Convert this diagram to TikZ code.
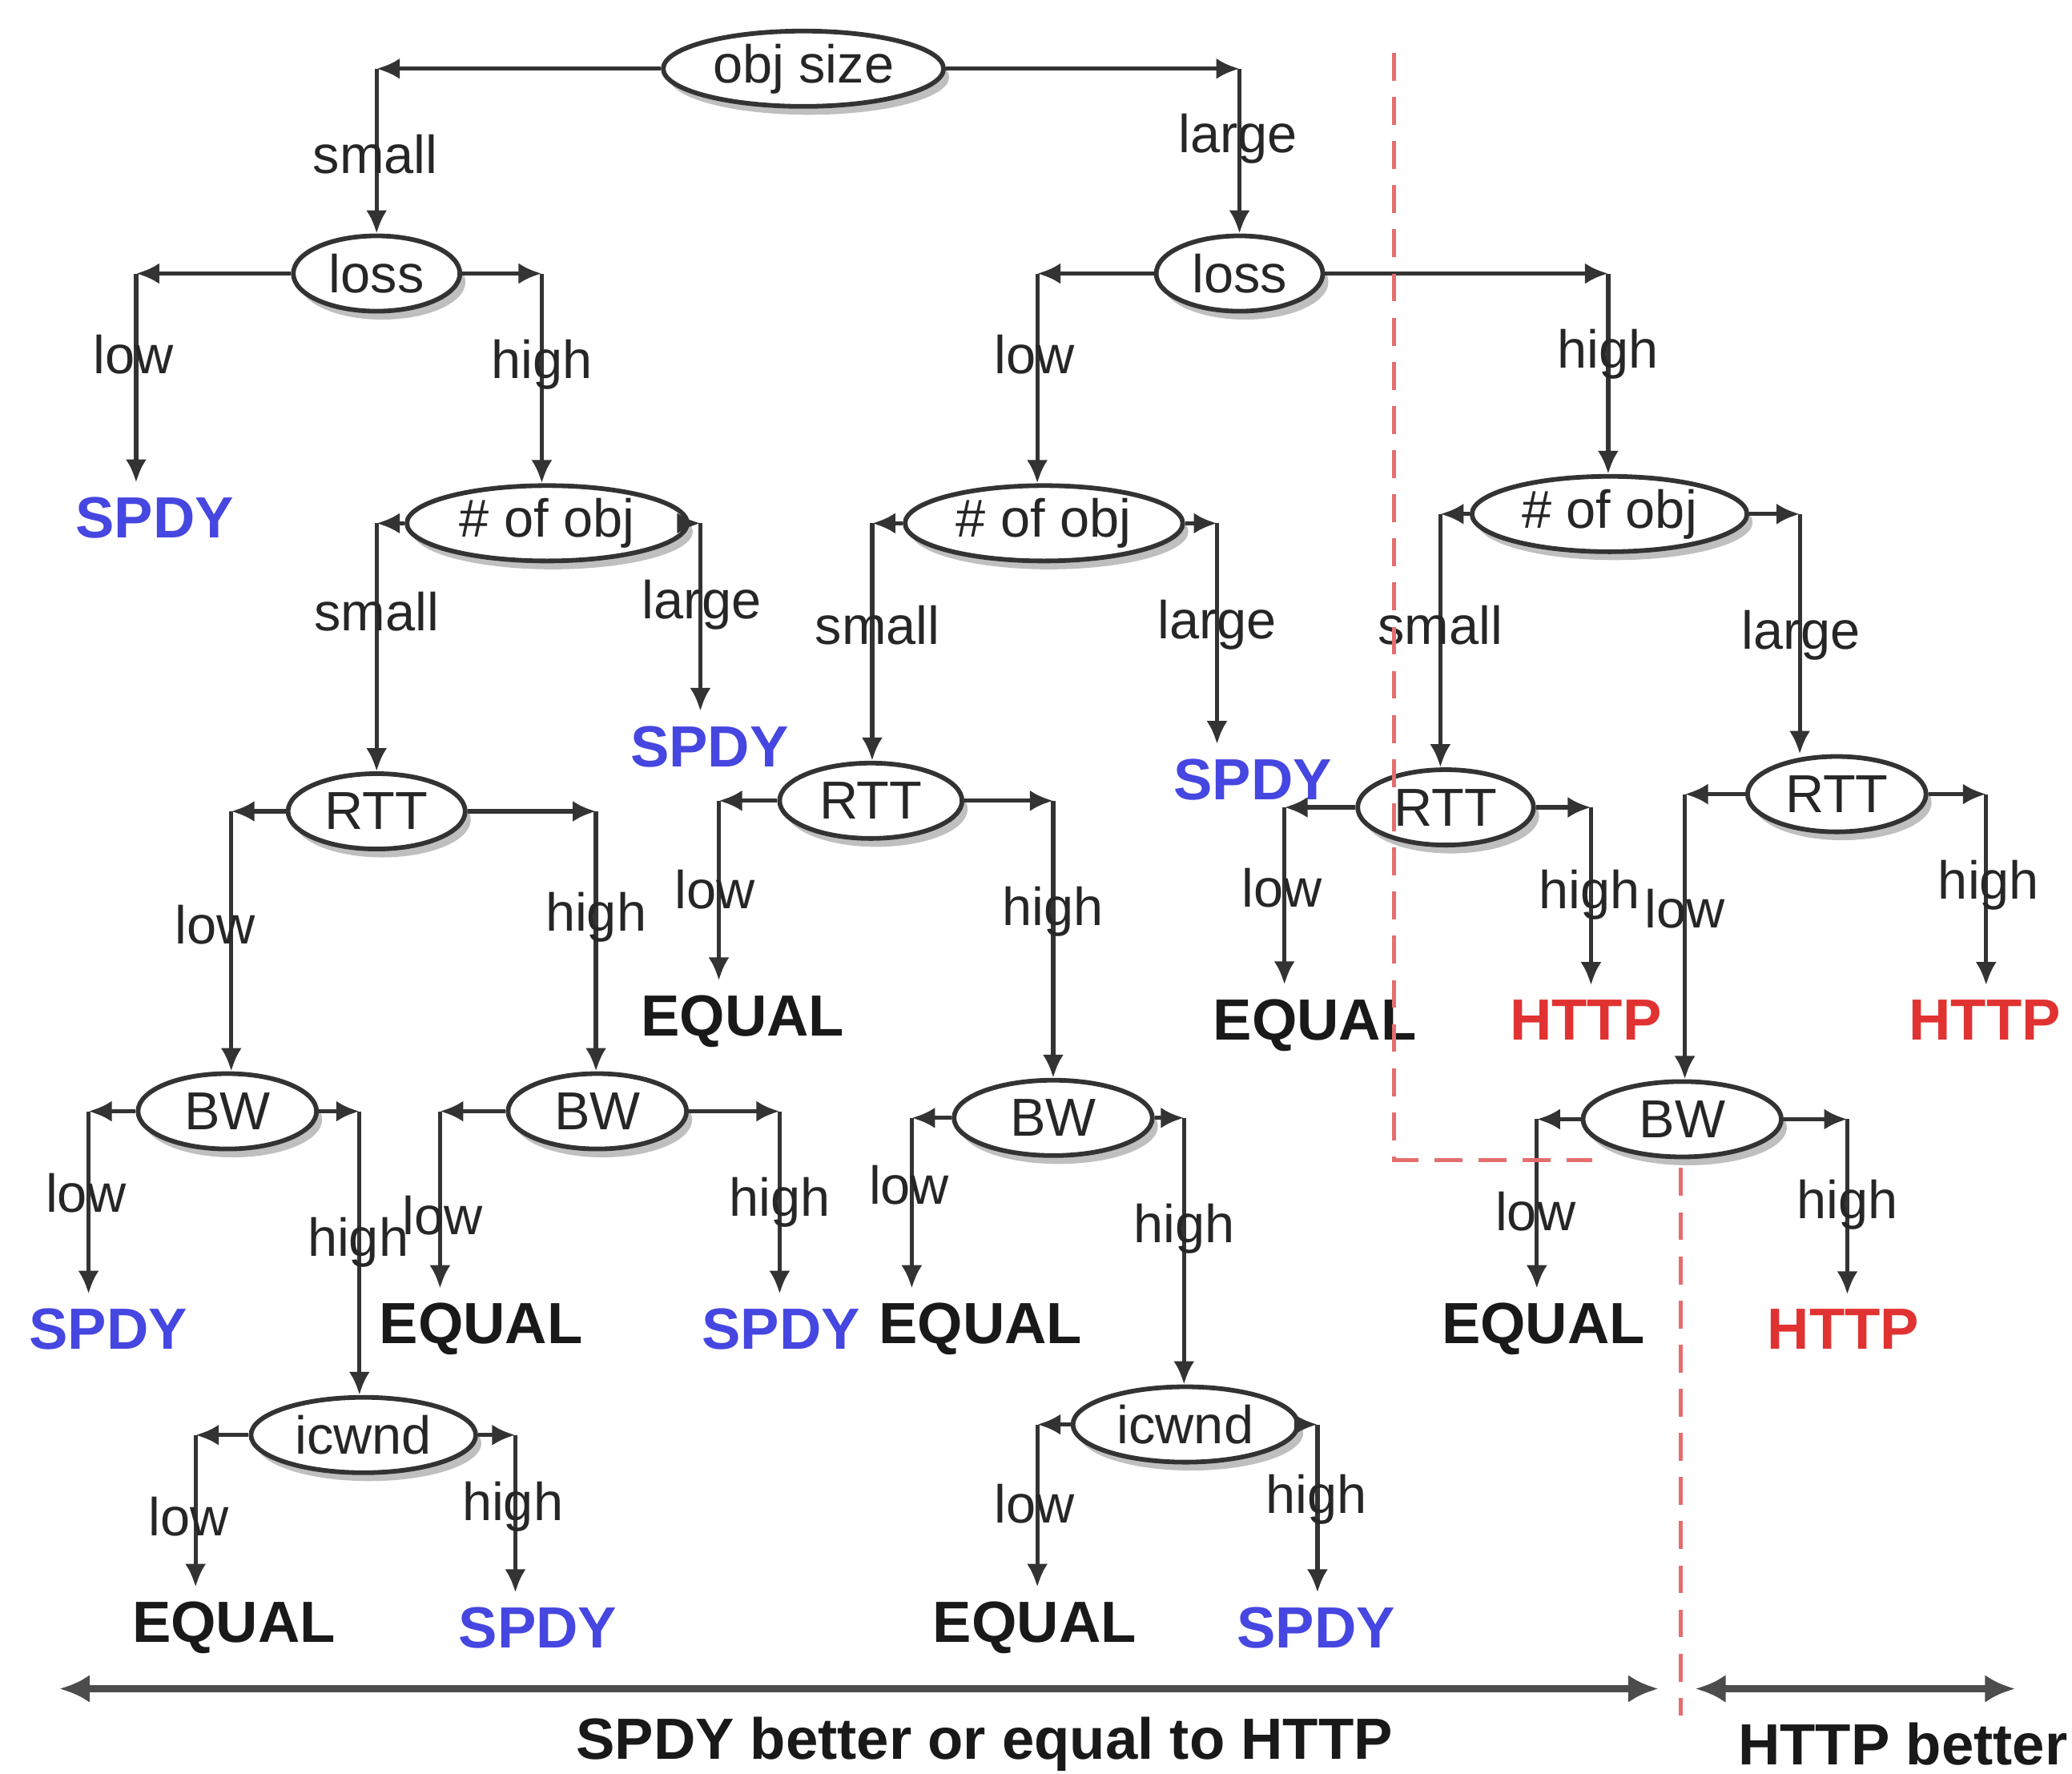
\documentclass[tikz,border=0pt]{standalone}
\usepackage{fontspec}
\setmainfont{Liberation Sans}
\usetikzlibrary{arrows.meta,shapes.geometric,shadows}
\definecolor{spdyblue}{RGB}{70,70,225}
\definecolor{httpred}{RGB}{225,50,50}
\definecolor{divred}{RGB}{228,110,110}
\newcommand\mybranch[4]{%
  \coordinate (#2) at (#3);
  \draw[link] (#1) -- (#2);
  \draw[link] (#2) -- (#2 |- #4.north);}
\begin{document}
\begin{tikzpicture}[x=0.01cm,y=-0.01cm,
  dec/.style={ellipse,draw=black!80,line width=1pt,fill=white,inner sep=0pt,
    minimum height=0.57cm,font=\fontsize{11.5}{13}\selectfont,text=black!85,
    drop shadow={shadow xshift=1.2pt,shadow yshift=-1.8pt,opacity=0.5}},
  lab/.style={font=\fontsize{11.5}{13}\selectfont,text=black!85,inner sep=0pt},
  leaf/.style={font=\bfseries\fontsize{12.5}{14}\selectfont,inner sep=3pt},
  spdy/.style={leaf,text=spdyblue},
  http/.style={leaf,text=httpred},
  eq/.style={leaf,text=black!90},
  link/.style={draw=black!80,line width=0.9pt,-{Latex[length=5pt,width=4.5pt]}},
  span/.style={draw=black!70,line width=1.5pt,{Latex[length=6.5pt,width=6pt]}-{Latex[length=6.5pt,width=6pt]}},
  divide/.style={draw=divred,line width=0.9pt,dash pattern=on 6pt off 3.5pt},
  foot/.style={font=\bfseries\fontsize{12.5}{14}\selectfont,text=black!90,inner sep=0pt}
]
\useasboundingbox (0,0) rectangle (1568,1342);

% decision nodes
\node[dec,minimum width=2.12cm] (obj) at (608,52) {obj size};
\node[dec,minimum width=1.26cm] (lossL) at (285,207) {loss};
\node[dec,minimum width=1.26cm] (lossR) at (938,207) {loss};
\node[dec,minimum width=2.12cm] (noL) at (414,396) {\# of obj};
\node[dec,minimum width=2.1cm] (noM) at (790,396) {\# of obj};
\node[dec,minimum width=2.08cm] (noR) at (1218,389) {\# of obj};
\node[dec,minimum width=1.34cm] (rtt1) at (285,614) {RTT};
\node[dec,minimum width=1.38cm] (rtt2) at (659,606) {RTT};
\node[dec,minimum width=1.33cm] (rtt3) at (1094,611) {RTT};
\node[dec,minimum width=1.35cm] (rtt4) at (1390,601) {RTT};
\node[dec,minimum width=1.35cm] (bw1) at (172,841) {BW};
\node[dec,minimum width=1.35cm] (bw2) at (452,841) {BW};
\node[dec,minimum width=1.5cm] (bw3) at (797,846) {BW};
\node[dec,minimum width=1.5cm] (bw4) at (1273,847) {BW};
\node[dec,minimum width=1.7cm] (ic1) at (275,1086) {icwnd};
\node[dec,minimum width=1.7cm] (ic2) at (897,1078) {icwnd};

% leaves
\node[spdy] (s1) at (117,392) {SPDY};
\node[spdy] (s2) at (537,565) {SPDY};
\node[spdy] (s3) at (948,590) {SPDY};
\node[eq]   (e1) at (562,773) {EQUAL};
\node[eq]   (e2) at (995,776) {EQUAL};
\node[http] (h1) at (1200,772) {HTTP};
\node[http] (h2) at (1502,772) {HTTP};
\node[spdy] (s4) at (82,1006) {SPDY};
\node[eq]   (e3) at (364,1006) {EQUAL};
\node[spdy] (s5) at (591,1006) {SPDY};
\node[eq]   (e4) at (742,1006) {EQUAL};
\node[eq]   (e5) at (1168,1006) {EQUAL};
\node[http] (h3) at (1395,1006) {HTTP};
\node[eq]   (e6) at (177,1232) {EQUAL};
\node[spdy] (s6) at (407,1232) {SPDY};
\node[eq]   (e7) at (783,1232) {EQUAL};
\node[spdy] (s7) at (996,1232) {SPDY};

% connectors
\mybranch{obj.west}{k1}{285,52}{lossL}
\mybranch{obj.east}{k2}{938,52}{lossR}
\mybranch{lossL.west}{k3}{103,207}{s1}
\mybranch{lossL.east}{k4}{410,207}{noL}
\mybranch{lossR.west}{k5}{785,207}{noM}
\mybranch{lossR.east}{k6}{1217,207}{noR}
\mybranch{noL.west}{k7}{285,396}{rtt1}
\mybranch{noL.east}{k8}{530,396}{s2}
\mybranch{noM.west}{k9}{660,396}{rtt2}
\mybranch{noM.east}{k10}{921,396}{s3}
\mybranch{noR.west}{k11}{1090,389}{rtt3}
\mybranch{noR.east}{k12}{1362,389}{rtt4}
\mybranch{rtt1.west}{k13}{175,614}{bw1}
\mybranch{rtt1.east}{k14}{451,614}{bw2}
\mybranch{rtt2.west}{k15}{544,606}{e1}
\mybranch{rtt2.east}{k16}{797,606}{bw3}
\mybranch{rtt3.west}{k17}{972,611}{e2}
\mybranch{rtt3.east}{k18}{1204,611}{h1}
\mybranch{rtt4.west}{k19}{1275,601}{bw4}
\mybranch{rtt4.east}{k20}{1503,601}{h2}
\mybranch{bw1.west}{k21}{67,841}{s4}
\mybranch{bw1.east}{k22}{272,841}{ic1}
\mybranch{bw2.west}{k23}{333,841}{e3}
\mybranch{bw2.east}{k24}{590,841}{s5}
\mybranch{bw3.west}{k25}{690,846}{e4}
\mybranch{bw3.east}{k26}{896,846}{ic2}
\mybranch{bw4.west}{k27}{1163,847}{e5}
\mybranch{bw4.east}{k28}{1398,847}{h3}
\mybranch{ic1.west}{k29}{148,1086}{e6}
\mybranch{ic1.east}{k30}{390,1086}{s6}
\mybranch{ic2.west}{k31}{785,1078}{e7}
\mybranch{ic2.east}{k32}{997,1078}{s7}

% branch labels
\node[lab] at (284,117) {small};
\node[lab] at (937,105) {large};
\node[lab] at (101,268) {low};
\node[lab] at (410,276) {high};
\node[lab] at (783,268) {low};
\node[lab] at (1217,268) {high};
\node[lab] at (285,463) {small};
\node[lab] at (531,458) {large};
\node[lab] at (664,473) {small};
\node[lab] at (921,473) {large};
\node[lab] at (1090,473) {small};
\node[lab] at (1363,481) {large};
\node[lab] at (163,700) {low};
\node[lab] at (451,694) {high};
\node[lab] at (541,673) {low};
\node[lab] at (797,690) {high};
\node[lab] at (970,672) {low};
\node[lab] at (1203,677) {high};
\node[lab] at (1275,688) {low};
\node[lab] at (1505,670) {high};
\node[lab] at (65,903) {low};
\node[lab] at (271,940) {high};
\node[lab] at (335,920) {low};
\node[lab] at (590,910) {high};
\node[lab] at (688,897) {low};
\node[lab] at (896,930) {high};
\node[lab] at (1162,917) {low};
\node[lab] at (1398,912) {high};
\node[lab] at (143,1148) {low};
\node[lab] at (388,1140) {high};
\node[lab] at (783,1138) {low};
\node[lab] at (996,1135) {high};

% dividing line
\draw[divide] (1055,40) -- (1055,878) -- (1205,878);
\draw[divide] (1272,884) -- (1272,1298);

% bottom spans
\coordinate (a1) at (45,1278);
\coordinate (a2) at (1255,1278);
\coordinate (a3) at (1283,1278);
\coordinate (a4) at (1525,1278);
\draw[span] (a1) -- (a2);
\draw[span] (a3) -- (a4);
\node[foot] (t1) at (745,1320) {SPDY better or equal to HTTP};
\node[foot] (t2) at (1440,1320) {HTTP better};
\end{tikzpicture}
\end{document}
